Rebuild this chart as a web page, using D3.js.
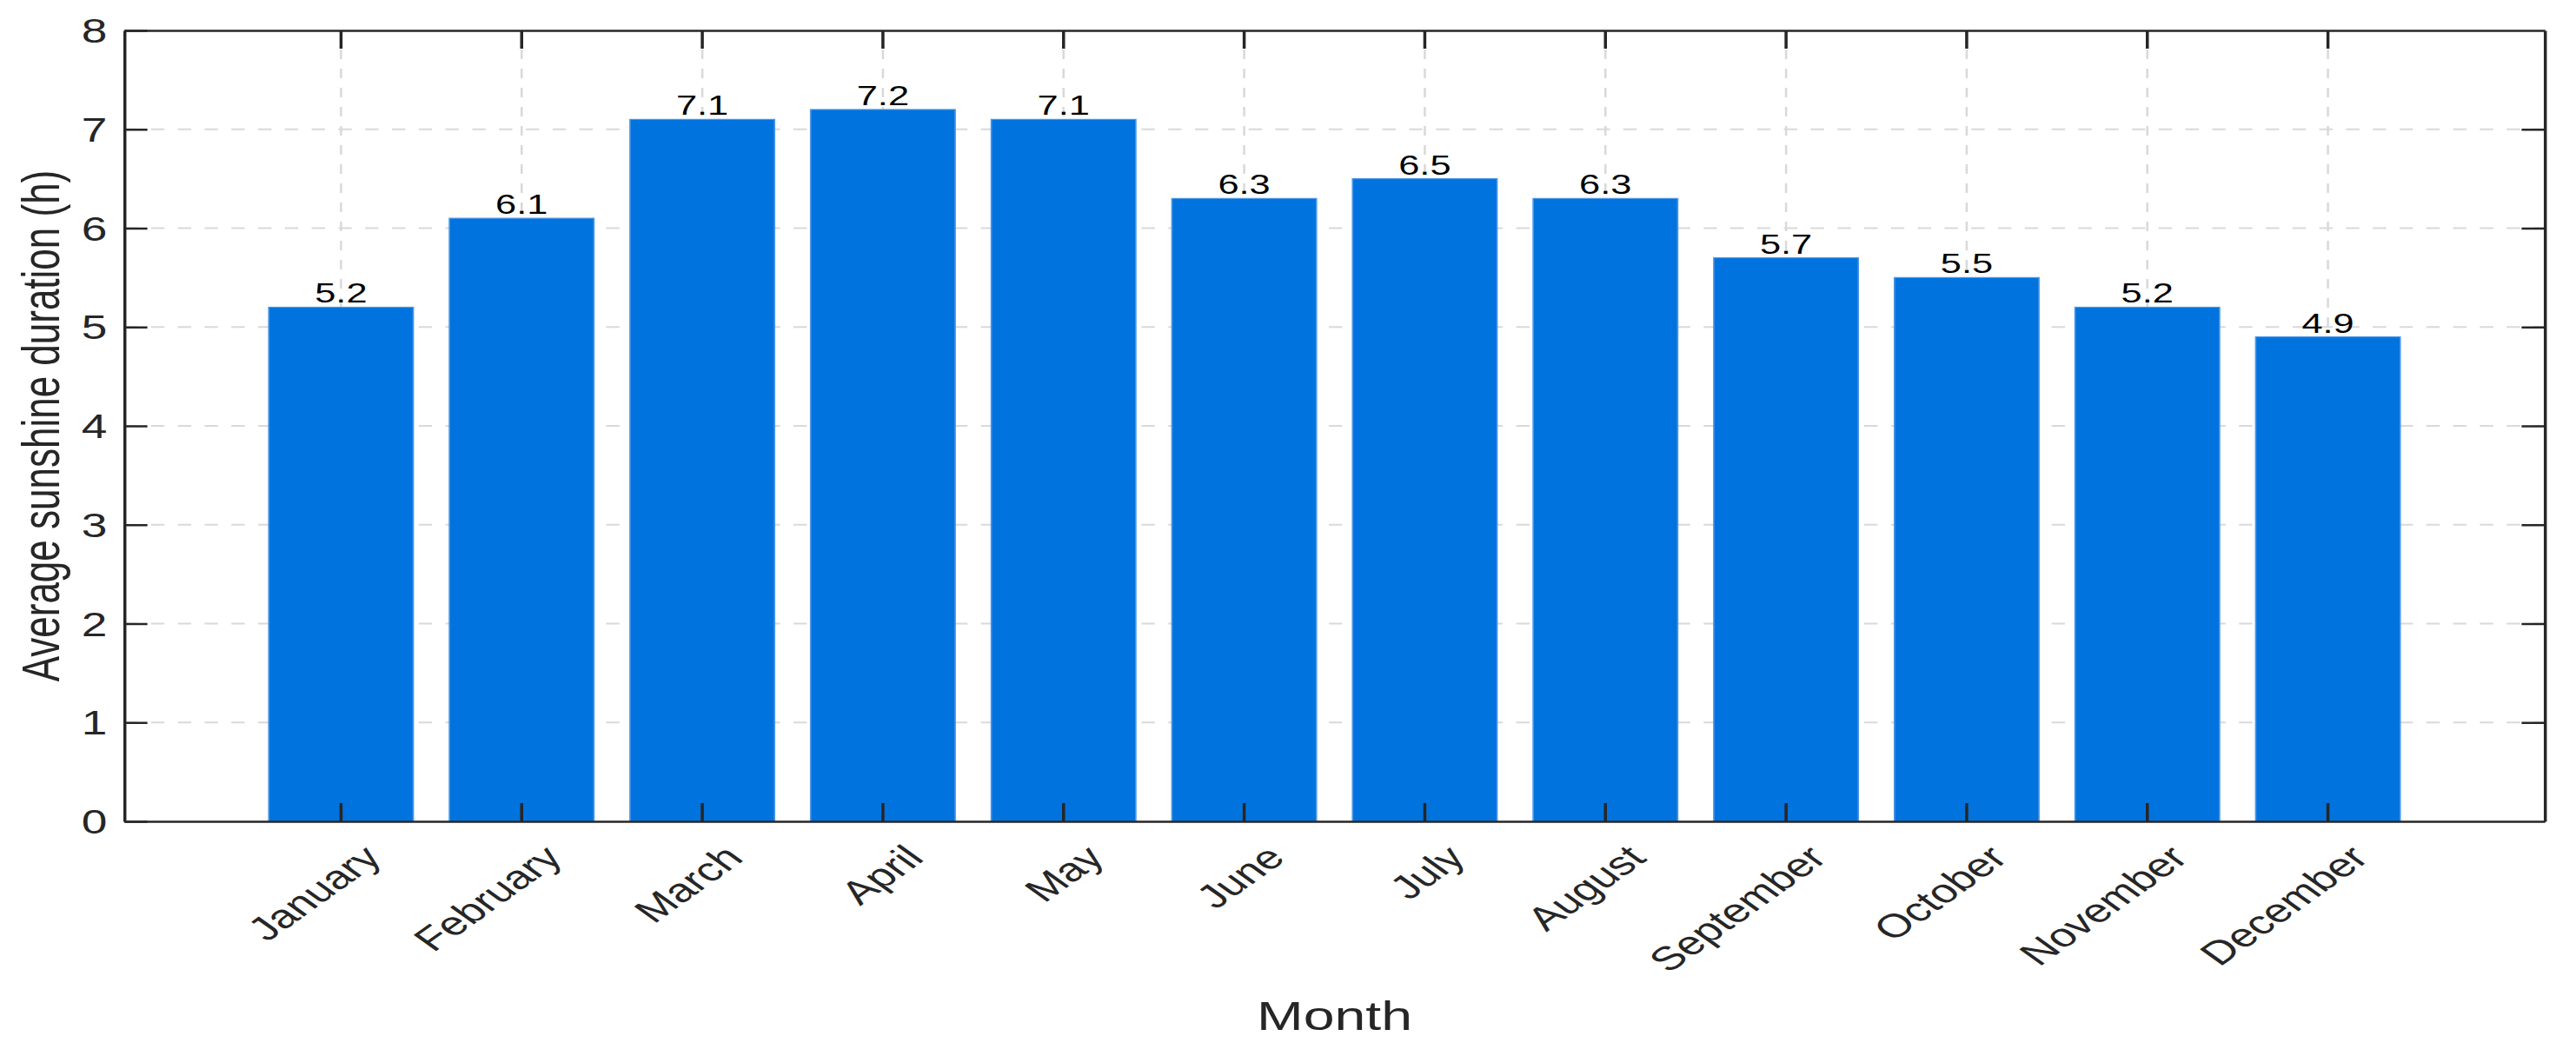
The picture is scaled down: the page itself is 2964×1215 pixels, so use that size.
<!DOCTYPE html>
<html>
<head>
<meta charset="utf-8">
<script src="https://cdn.jsdelivr.net/npm/d3@7"></script>
<style>
  html, body { margin: 0; padding: 0; background: #fff; overflow: hidden; }
  text { font-family: "Liberation Sans", Arial, Helvetica, sans-serif; }
</style>
</head>
<body>
<svg id="chart"></svg>
<script>
const months = ["January", "February", "March", "April", "May", "June",
  "July", "August", "September", "October", "November", "December"]
const sunshine = [5.2, 6.1, 7.1, 7.2, 7.1, 6.3, 6.5, 6.3, 5.7, 5.5, 5.2, 4.9]
const yTicks = [0, 1, 2, 3, 4, 5, 6, 7, 8]

// the picture is wider than it is tall in its glyphs, so draw in a narrower
// user space and let the svg stretch it sideways
const W = 2964, H = 1215, stretch = 1.4
const VW = W / stretch
const ink = "#262626"

const svg = d3.select("#chart")
  .attr("width", W)
  .attr("height", H)
  .attr("viewBox", `0 0 ${VW} ${H}`)
  .attr("preserveAspectRatio", "none")

const box = {left: 143 / stretch, right: 2928 / stretch, top: 35, bottom: 945}

const x = d3.scaleBand()
  .domain(months)
  .range([box.left, box.right])
  .paddingInner(0.2)
  .paddingOuter(0.8)

const y = d3.scaleLinear()
  .domain([0, 8])
  .range([box.bottom, box.top])

// grid
const grid = svg.append("g")
  .attr("stroke", "#d9d9d9")
  .attr("stroke-width", 1.8)
  .attr("stroke-dasharray", "11,11")

grid.selectAll("line.h")
  .data(yTicks.slice(1, -1))
  .enter().append("line")
  .attr("class", "h")
  .attr("x1", box.left).attr("x2", box.right)
  .attr("y1", d => y(d)).attr("y2", d => y(d))

grid.selectAll("line.v")
  .data(months)
  .enter().append("line")
  .attr("class", "v")
  .attr("x1", d => x(d) + x.bandwidth() / 2)
  .attr("x2", d => x(d) + x.bandwidth() / 2)
  .attr("y1", box.top).attr("y2", box.bottom)

// bars
svg.append("g")
  .selectAll("rect")
  .data(sunshine)
  .enter().append("rect")
  .attr("x", (d, i) => x(months[i]))
  .attr("width", x.bandwidth())
  .attr("y", d => y(d))
  .attr("height", d => y(0) - y(d))
  .attr("fill", "#0073de")
  .attr("stroke", "#4b95e8")
  .attr("stroke-width", 1.2)

// value labels
svg.append("g")
  .selectAll("text")
  .data(sunshine)
  .enter().append("text")
  .attr("x", (d, i) => x(months[i]) + x.bandwidth() / 2)
  .attr("y", d => y(d) - 5)
  .attr("text-anchor", "middle")
  .attr("font-size", 31)
  .attr("fill", "#000")
  .text(d => d.toFixed(1))

// axes, ticks inside on all four sides
function styleAxis(g) {
  g.select(".domain").attr("stroke", ink).attr("stroke-width", 2.5)
  g.selectAll(".tick line").attr("stroke", ink).attr("stroke-width", 2.5)
  g.selectAll(".tick text").attr("fill", ink).attr("font-family", null)
}

svg.append("g")
  .attr("transform", `translate(${box.left},0)`)
  .call(d3.axisLeft(y).tickValues(yTicks).tickSizeInner(-19).tickSizeOuter(0).tickPadding(14))
  .call(styleAxis)
  .call(g => g.selectAll(".tick text").attr("font-size", 38).attr("dy", "0.36em"))

svg.append("g")
  .attr("transform", `translate(${box.right},0)`)
  .call(d3.axisRight(y).tickValues(yTicks.slice(1, -1)).tickSizeInner(-19).tickSizeOuter(0).tickFormat(""))
  .call(styleAxis)

svg.append("g")
  .attr("transform", `translate(0,${box.top})`)
  .call(d3.axisTop(x).tickSizeInner(-21).tickSizeOuter(0).tickFormat(""))
  .call(styleAxis)

svg.append("g")
  .attr("transform", `translate(0,${box.bottom})`)
  .call(d3.axisBottom(x).tickSizeInner(-21).tickSizeOuter(0))
  .call(styleAxis)
  .call(g => g.selectAll(".tick text")
    .attr("font-size", 38)
    .attr("text-anchor", "end")
    .attr("x", 0).attr("y", 0).attr("dy", 0)
    .attr("transform", "translate(35,44) rotate(-45)"))

// axis titles
svg.append("text")
  .attr("x", (box.left + box.right) / 2)
  .attr("y", 1185)
  .attr("text-anchor", "middle")
  .attr("font-size", 46)
  .attr("fill", ink)
  .text("Month")

svg.append("text")
  .attr("transform", `translate(48.5,${(box.top + box.bottom) / 2}) rotate(-90)`)
  .attr("text-anchor", "middle")
  .attr("font-size", 44)
  .attr("fill", ink)
  .text("Average sunshine duration (h)")
</script>
</body>
</html>
